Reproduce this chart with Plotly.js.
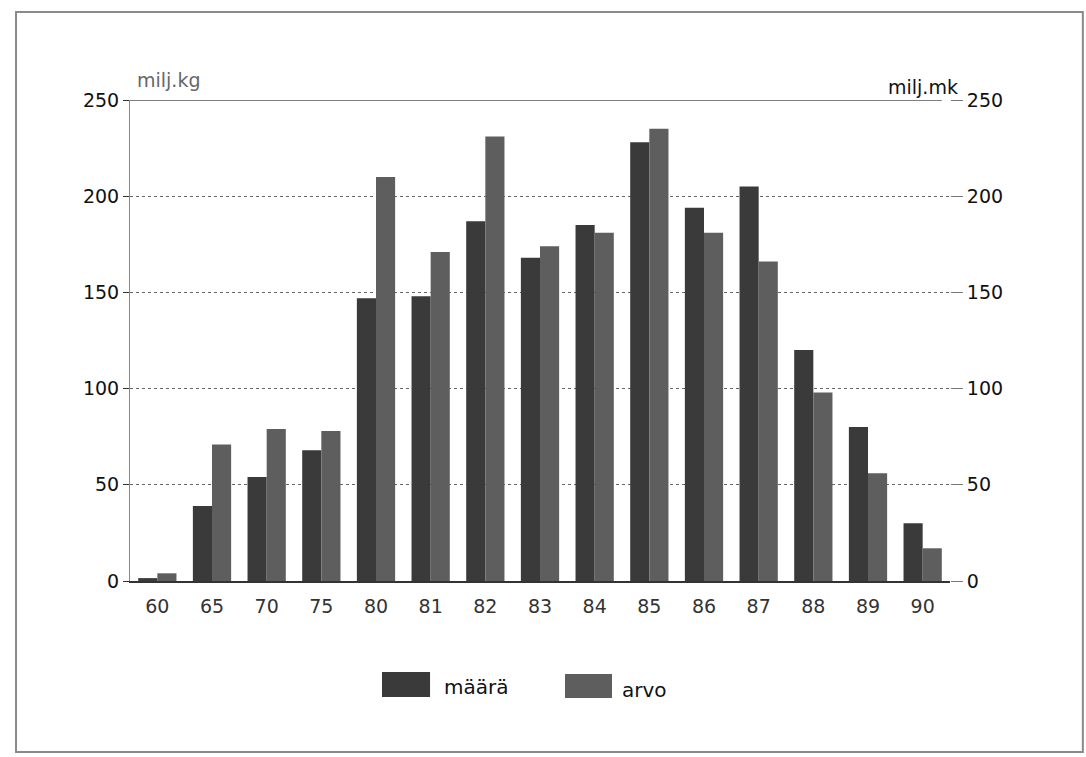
<!DOCTYPE html>
<html>
<head>
<meta charset="utf-8">
<script src="https://cdn.plot.ly/plotly-3.0.1.min.js"></script>
<style>html,body{margin:0;padding:0;background:#fff;}#chart{width:1086px;height:757px;}</style>
</head>
<body>
<div id="chart"></div>
<script>
var years = ["60","65","70","75","80","81","82","83","84","85","86","87","88","89","90"];
var maara = [1.5, 39, 54, 68, 147, 148, 187, 168, 185, 228, 194, 205, 120, 80, 30];
var arvo  = [4, 71, 79, 78, 210, 171, 231, 174, 181, 235, 181, 166, 98, 56, 17];
var yTicks = [0, 50, 100, 150, 200, 250];
var leftUnit = "milj.kg";
var rightUnit = "milj.mk";
var nameMaara = "määrä";
var nameArvo = "arvo";

var colMaara = "#3a3a3a";
var colArvo = "#5e5e5e";

var traces = [
  {type:"bar", x:years, y:maara, name:nameMaara, offsetgroup:"a", yaxis:"y",
   marker:{color:colMaara, line:{width:0}}, showlegend:false, hoverinfo:"x+y"},
  {type:"bar", x:years, y:arvo, name:nameArvo, offsetgroup:"b", yaxis:"y2",
   marker:{color:colArvo, line:{width:0}}, showlegend:false, hoverinfo:"x+y"}
];

var font = "DejaVu Sans, Liberation Sans, Arial, sans-serif";
var layout = {
  width:1086, height:757,
  margin:{l:130, r:136, t:100, b:176},
  paper_bgcolor:"#fff", plot_bgcolor:"#fff",
  barmode:"group", bargap:0.3, bargroupgap:0,
  font:{family:font, size:19, color:"#222"},
  xaxis:{type:"category", showgrid:false, showline:true, linecolor:"#333", linewidth:1.5,
         ticks:"", ticklabelstandoff:8, tickfont:{size:19, color:"#333"}, fixedrange:true},
  yaxis:{range:[0,250], tickvals:yTicks, showgrid:true, gridcolor:"#666", griddash:"dot", gridwidth:1,
         zeroline:false, showline:true, linecolor:"#888", linewidth:1,
         ticks:"outside", ticklen:6, tickcolor:"#333", tickfont:{size:19, color:"#111"}, fixedrange:true},
  yaxis2:{range:[0,250], tickvals:yTicks, overlaying:"y", side:"right", showgrid:false, zeroline:false,
          showline:false, ticks:"outside", ticklen:12, tickcolor:"#777",
          tickfont:{size:19, color:"#111"}, fixedrange:true},
  shapes:[
    {type:"line", xref:"paper", yref:"y", x0:0, x1:0.99, y0:250, y1:250, line:{color:"#555", width:1.5}},
    {type:"rect", xref:"paper", yref:"paper", x0:-0.139, x1:1.162, y0:-0.3555, y1:1.183,
     line:{color:"#8a8a8a", width:2}, fillcolor:"rgba(0,0,0,0)", layer:"below"},
    {type:"rect", xref:"paper", yref:"paper", x0:0.3073, x1:0.3659, y0:-0.2412, y1:-0.1892,
     line:{width:0}, fillcolor:colMaara},
    {type:"rect", xref:"paper", yref:"paper", x0:0.5305, x1:0.5878, y0:-0.2432, y1:-0.1933,
     line:{width:0}, fillcolor:colArvo}
  ],
  annotations:[
    {xref:"paper", yref:"paper", x:0.006, y:1.042, text:leftUnit, showarrow:false,
     xanchor:"left", yanchor:"middle", font:{size:19, color:"#666"}},
    {xref:"paper", yref:"paper", x:1.012, y:1.026, text:rightUnit, showarrow:false,
     xanchor:"right", yanchor:"middle", font:{size:19, color:"#111"}},
    {xref:"paper", yref:"paper", x:0.3805, y:-0.2205, text:nameMaara, showarrow:false,
     xanchor:"left", yanchor:"middle", font:{size:20, color:"#111"}},
    {xref:"paper", yref:"paper", x:0.5976, y:-0.2266, text:nameArvo, showarrow:false,
     xanchor:"left", yanchor:"middle", font:{size:20, color:"#111"}}
  ]
};
Plotly.newPlot("chart", traces, layout, {displayModeBar:false, staticPlot:true});
</script>
</body>
</html>
